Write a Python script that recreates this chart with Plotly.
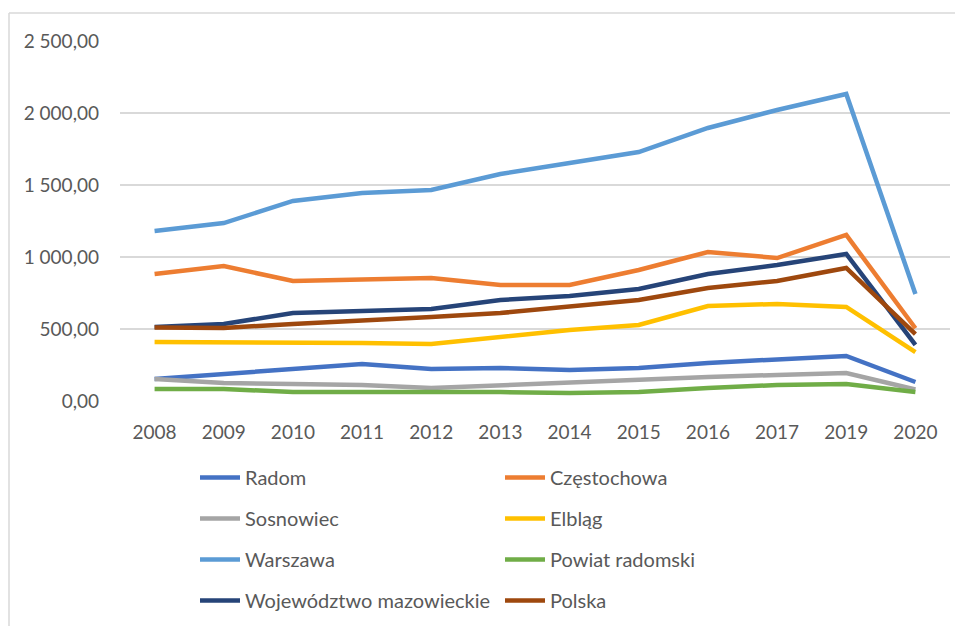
import plotly.graph_objects as go

years = ["2008", "2009", "2010", "2011", "2012", "2013", "2014", "2015", "2016", "2017", "2019", "2020"]

radom = [153, 188, 229, 257, 222, 229, 215, 229, 264, 292, 313, 132]
czestochowa = [882, 937, 833, 847, 854, 806, 806, 910, 1035, 993, 1153, 505]
sosnowiec = [153, 125, 118, 111, 90, 111, 132, 146, 167, 181, 194, 80]
elblag = [410, 410, 410, 403, 396, 445, 493, 528, 660, 674, 653, 340]
warszawa = [1180, 1236, 1389, 1444, 1465, 1576, 1653, 1729, 1896, 2021, 2132, 743]
powiat_radomski = [83, 83, 62, 62, 69, 62, 55, 62, 90, 111, 118, 62]
wojewodztwo = [514, 535, 611, 625, 639, 701, 729, 778, 882, 944, 1021, 389]
polska = [510, 507, 535, 556, 583, 611, 653, 701, 785, 833, 924, 465]

y_tickvals = [0, 500, 1000, 1500, 2000, 2500]
y_ticktext = ["0,00", "500,00", "1 000,00", "1 500,00", "2 000,00", "2 500,00"]

series = [
    ("Radom", radom, "#4472C4", "legend"),
    ("Częstochowa", czestochowa, "#ED7D31", "legend2"),
    ("Sosnowiec", sosnowiec, "#A5A5A5", "legend"),
    ("Elbląg", elblag, "#FFC000", "legend2"),
    ("Warszawa", warszawa, "#5B9BD5", "legend"),
    ("Powiat radomski", powiat_radomski, "#70AD47", "legend2"),
    ("Województwo mazowieckie", wojewodztwo, "#264478", "legend"),
    ("Polska", polska, "#9E480E", "legend2"),
]

fig = go.Figure()
for name, vals, color, leg in series:
    fig.add_trace(go.Scatter(
        x=years, y=vals, name=name, mode="lines",
        line=dict(color=color, width=4.5),
        legend=leg, legendgroup=name,
    ))

FONT = "Lato"
W, H = 955, 618
L, R, T, B = 112, 13, 33, 225
PW, PH = W - L - R, H - T - B

leg_common = dict(yref="container", xref="container", xanchor="left", yanchor="top",
                  orientation="v", tracegroupgap=12, itemwidth=40,
                  font=dict(family=FONT, size=20, color="#595959"),
                  bgcolor="rgba(0,0,0,0)")

fig.update_layout(
    width=W, height=H,
    margin=dict(l=L, r=R, t=T, b=B, autoexpand=False),
    paper_bgcolor="white", plot_bgcolor="white",
    font=dict(family=FONT, size=19, color="#595959"),
    xaxis=dict(type="category", range=[-0.5, 11.5], showgrid=False,
               showline=False, zeroline=False, ticks="", ticklabelstandoff=18,
               tickangle=0, automargin=False),
    yaxis=dict(range=[0, 2500], tickvals=y_tickvals, ticktext=y_ticktext,
               showgrid=True, gridcolor="#D9D9D9", gridwidth=1.5,
               zeroline=False, showline=False, ticks="", ticklabelstandoff=20,
               automargin=False),
    legend=dict(x=187/W, y=1 - 450/H, **leg_common),
    legend2=dict(x=492/W, y=1 - 450/H, **leg_common),
    shapes=[
        dict(type="line", xref="paper", yref="paper", x0=-(L - 1)/PW, x1=(W - L)/PW,
             y0=(PH + T - 5)/PH, y1=(PH + T - 5)/PH, line=dict(color="#D9D9D9", width=1.5)),
        dict(type="line", xref="paper", yref="paper", x0=-(L - 1)/PW, x1=-(L - 1)/PW,
             y0=(PH + T - 5)/PH, y1=-B/PH, line=dict(color="#D9D9D9", width=1.5)),
    ],
)

fig.write_html("out.html")
